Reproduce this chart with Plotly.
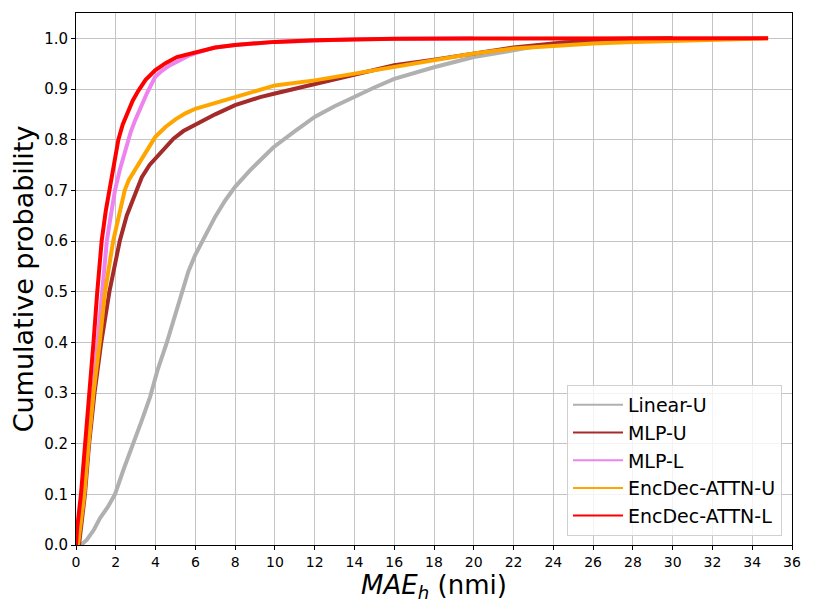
import plotly.graph_objects as go

linear_u_x = [0.25, 0.54, 0.9, 1.21, 1.6, 1.96, 2.4, 2.89, 3.3, 3.73, 4.1, 4.57, 4.95, 5.32, 5.65,
              5.99, 6.33, 6.58, 7.0, 7.5, 8.0, 8.76, 9.3, 9.93, 10.94, 12.0, 13.0, 14.0, 15.0,
              16.0, 17.0, 18.0, 20.0, 22.0, 24.0, 25.0, 26.0, 28.0]
linear_u_y = [0.0, 0.01, 0.03, 0.053, 0.075, 0.1, 0.15, 0.2, 0.245, 0.293, 0.345, 0.40, 0.45, 0.50,
              0.54, 0.572, 0.598, 0.62, 0.648, 0.68, 0.707, 0.74, 0.762, 0.785, 0.815, 0.845, 0.866,
              0.885, 0.903, 0.92, 0.932, 0.943, 0.963, 0.977, 0.99, 0.995, 0.998, 1.0]

mlp_u_x = [0.15, 0.45, 0.66, 0.93, 1.27, 1.68, 2.2, 2.55, 3.05, 3.31, 3.7, 4.35, 4.9, 5.4, 6.0,
           7.0, 8.0, 9.26, 10.0, 12.0, 14.0, 16.0, 18.0, 20.0, 22.0, 24.0, 26.0, 28.0, 30.0]
mlp_u_y = [0.0, 0.1, 0.2, 0.3, 0.4, 0.5, 0.6, 0.65, 0.7, 0.726, 0.75, 0.779, 0.802, 0.817, 0.83,
           0.85, 0.868, 0.884, 0.891, 0.909, 0.928, 0.947, 0.958, 0.97, 0.982, 0.99, 0.996, 0.999,
           1.0]

mlp_l_x = [0.05, 0.15, 0.4, 0.62, 0.85, 1.06, 1.29, 1.55, 1.75, 1.96, 2.2, 2.47, 2.75, 2.97, 3.3,
           3.56, 3.98, 4.35, 4.73, 5.2, 5.74, 6.1, 7.0, 8.0, 10.0, 14.0, 20.0]
mlp_l_y = [0.0, 0.03, 0.1, 0.2, 0.3, 0.4, 0.5, 0.6, 0.65, 0.7, 0.74, 0.779, 0.815, 0.838, 0.868,
           0.891, 0.924, 0.937, 0.947, 0.957, 0.967, 0.972, 0.982, 0.987, 0.993, 0.998, 1.0]

attn_u_x = [0.1, 0.42, 0.63, 0.88, 1.19, 1.46, 1.87, 2.45, 2.65, 3.45, 3.98, 4.5, 5.0, 5.5, 6.0,
            8.0, 9.26, 10.0, 12.0, 14.0, 16.0, 18.0, 20.0, 22.0, 24.0, 26.0, 28.0, 30.0, 32.0,
            34.0, 34.8]
attn_u_y = [0.0, 0.1, 0.2, 0.3, 0.4, 0.5, 0.6, 0.7, 0.72, 0.77, 0.805, 0.825, 0.84, 0.852, 0.861,
            0.884, 0.899, 0.907, 0.917, 0.93, 0.945, 0.958, 0.97, 0.98, 0.985, 0.99, 0.993, 0.995,
            0.997, 0.999, 1.0]

attn_l_x = [0.0, 0.05, 0.25, 0.47, 0.68, 0.88, 1.07, 1.29, 1.5, 1.68, 1.85, 2.01, 2.13, 2.35, 2.55,
            2.85, 3.14, 3.5, 3.98, 4.5, 5.07, 6.0, 7.0, 8.0, 10.0, 12.0, 14.0, 16.0, 20.0, 25.0,
            30.0, 34.8]
attn_l_y = [0.0, 0.03, 0.1, 0.2, 0.3, 0.4, 0.5, 0.6, 0.66, 0.7, 0.74, 0.779, 0.8, 0.83, 0.851,
            0.877, 0.897, 0.918, 0.937, 0.951, 0.963, 0.973, 0.982, 0.987, 0.993, 0.996, 0.998,
            0.999, 0.9995, 1.0, 1.0, 1.0]

series = [
    ("Linear-U", linear_u_x, linear_u_y, "#b0b0b0"),
    ("MLP-U", mlp_u_x, mlp_u_y, "#a52a2a"),
    ("MLP-L", mlp_l_x, mlp_l_y, "#ee82ee"),
    ("EncDec-ATTN-U", attn_u_x, attn_u_y, "#ffa500"),
    ("EncDec-ATTN-L", attn_l_x, attn_l_y, "#ff0000"),
]

x_ticks = list(range(0, 37, 2))
y_ticks = [i / 10 for i in range(11)]

fig = go.Figure()
for name, xs, ys, color in series:
    fig.add_trace(go.Scatter(x=xs, y=ys, mode="lines", name=name, showlegend=False,
                             line=dict(color=color, width=4)))
# thinner lines for the legend, like matplotlib draws them
for name, xs, ys, color in series:
    fig.add_trace(go.Scatter(x=[None], y=[None], mode="lines", name=name,
                             line=dict(color=color, width=2)))

axis_style = dict(
    showline=True, linecolor="black", linewidth=1, mirror=True,
    ticks="outside", ticklen=4, tickcolor="black",
    showgrid=True, gridcolor="#c4c4c4", gridwidth=1,
    zeroline=False, automargin=False,
)

# the page body adds an 8px offset, margins are shifted to compensate
fig.update_layout(
    width=814, height=610,
    margin=dict(l=68, r=30, t=5, b=73),
    paper_bgcolor="white", plot_bgcolor="white",
    font=dict(family="DejaVu Sans", color="black"),
    xaxis=dict(range=[0, 36], tickvals=x_ticks, tickfont=dict(size=14, color="black"),
               title=dict(text="<i>MAE</i><sub><i>h</i></sub> (nmi)", font=dict(size=26), standoff=2),
               **axis_style),
    yaxis=dict(range=[0, 1.05], tickvals=y_ticks, tickformat=".1f",
               tickfont=dict(size=15, color="black"),
               title=dict(text="Cumulative probability", font=dict(size=27), standoff=6),
               **axis_style),
    legend=dict(x=0.986, y=0.017, xanchor="right", yanchor="bottom", itemwidth=50,
                bgcolor="rgba(255,255,255,0.8)", bordercolor="#d0d0d0", borderwidth=1,
                font=dict(size=19, color="black")),
)

fig.write_html("out.html")
